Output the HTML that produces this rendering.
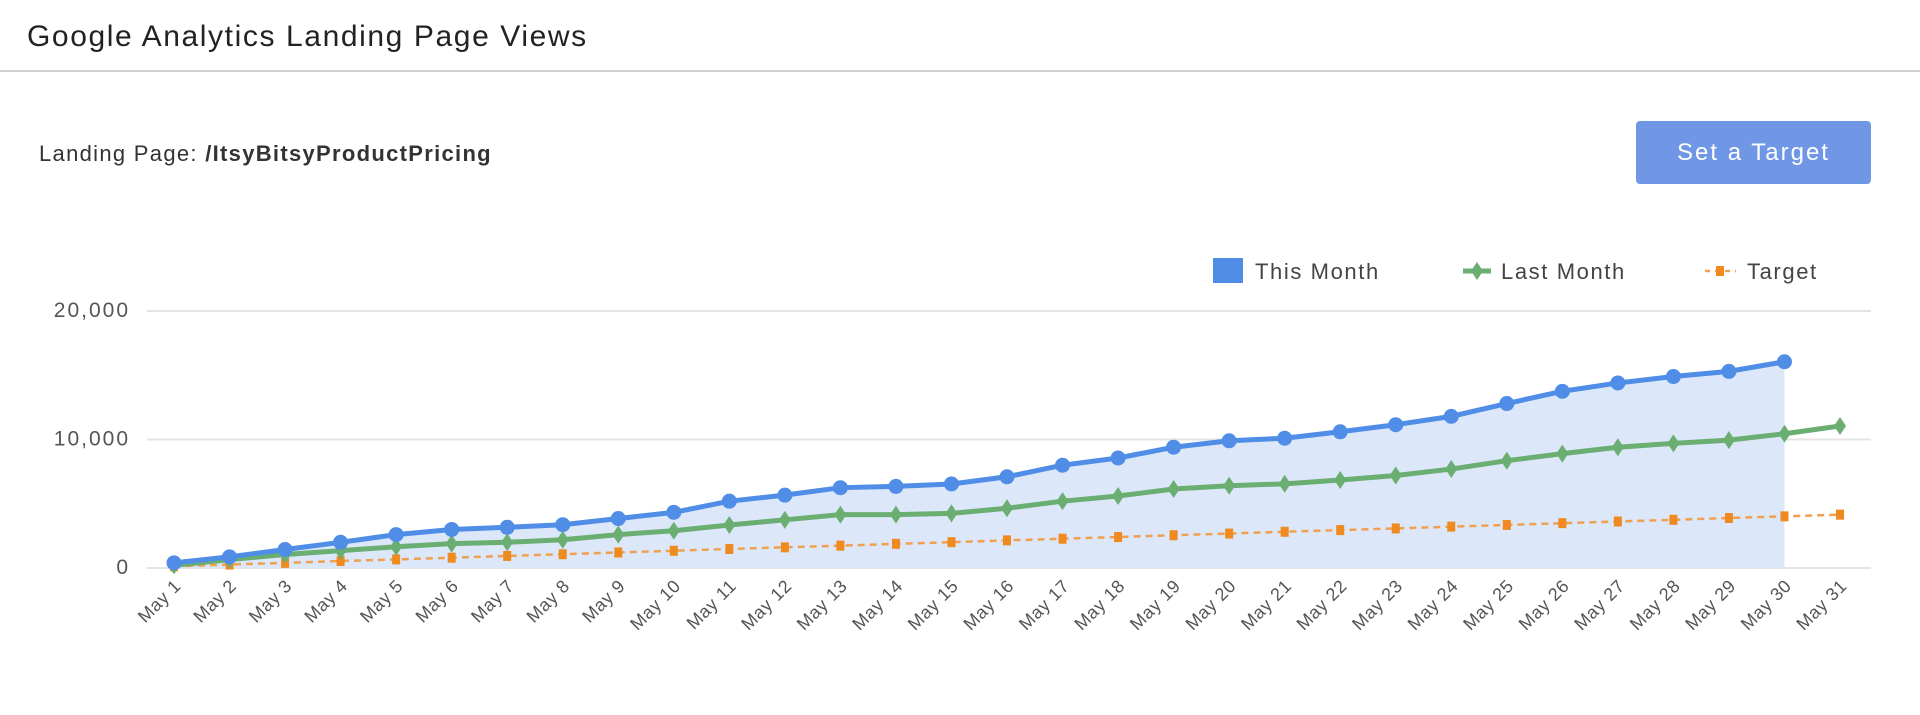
<!DOCTYPE html>
<html><head><meta charset="utf-8"><style>
html,body{margin:0;padding:0;background:#fff;width:1920px;height:715px;overflow:hidden;font-family:"Liberation Sans",sans-serif;}
#title{position:absolute;left:27px;top:20px;font-size:30px;color:#222;letter-spacing:1.6px;}
#hline{position:absolute;left:0;top:70px;width:1920px;height:2px;background:#d0d0d0;}
#lp{position:absolute;left:39px;top:141px;font-size:22px;color:#333;letter-spacing:1.3px;}
#lp b{color:#333;}
#btn{position:absolute;left:1636px;top:121px;width:235px;height:63px;background:#7097e6;border-radius:4px;color:#fff;font-size:24px;line-height:63px;text-align:center;letter-spacing:2px;}
svg{position:absolute;left:0;top:0;}
</style></head><body>
<div id="title">Google Analytics Landing Page Views</div>
<div id="hline"></div>
<div id="lp">Landing Page: <b>/ItsyBitsyProductPricing</b></div>
<div id="btn">Set a Target</div>
<svg id="chart" width="1920" height="715"></svg>
<script>
const categories=["May 1","May 2","May 3","May 4","May 5","May 6","May 7","May 8","May 9","May 10","May 11","May 12","May 13","May 14","May 15","May 16","May 17","May 18","May 19","May 20","May 21","May 22","May 23","May 24","May 25","May 26","May 27","May 28","May 29","May 30","May 31"];
const thisMonth=[400,870,1440,2000,2600,3000,3170,3370,3850,4330,5200,5670,6250,6350,6540,7100,8000,8560,9400,9900,10100,10600,11150,11800,12800,13750,14400,14900,15300,16050];
const lastMonth=[200,650,1050,1350,1650,1900,2000,2200,2600,2900,3350,3750,4150,4150,4250,4650,5200,5600,6150,6400,6550,6850,7200,7700,8350,8900,9400,9700,9950,10450,11050];
const target=[130,270,400,540,670,800,940,1070,1210,1340,1480,1610,1740,1880,2010,2150,2280,2410,2550,2680,2820,2950,3080,3220,3350,3490,3620,3750,3890,4020,4150];
const yTicks=[0,10000,20000];
const yTickLabels=["0","10,000","20,000"];
const legendLabels=["This Month","Last Month","Target"];

const NS="http://www.w3.org/2000/svg";
const svg=document.getElementById('chart');
const X0=174,X1=1840,Y0=568,YMAX=20000,Y20=311;
const xs=i=>X0+(X1-X0)*i/(categories.length-1);
const ys=v=>Y0-(Y0-Y20)*v/YMAX;
function mk(t,a){const e=document.createElementNS(NS,t);for(const k in a)e.setAttribute(k,a[k]);svg.appendChild(e);return e;}

yTicks.forEach((t,i)=>{
  const g=mk('line',{x1:147,x2:1871,y1:ys(t),y2:ys(t),stroke:'#e4e4e4','stroke-width':2});
  
  
  const tx=mk('text',{x:130,y:ys(t)+6,'text-anchor':'end','font-size':21,'letter-spacing':2,fill:'#555'});
  tx.textContent=yTickLabels[i];
  
  
});

let d='M'+xs(0)+','+Y0;
thisMonth.forEach((v,i)=>d+=' L'+xs(i)+','+ys(v));
d+=' L'+xs(thisMonth.length-1)+','+Y0+' Z';
const area=mk('path',{d:d,fill:'#dce7f9'});



function line(arr,color,w,dash,name){
  const p=mk('polyline',{points:arr.map((v,i)=>xs(i)+','+ys(v)).join(' '),fill:'none',stroke:color,'stroke-width':w,'stroke-dasharray':dash||'none'});
  
  
}
line(target,'#f0a050',2.5,'7,5','target-line');
target.forEach((v,i)=>{const r=mk('rect',{x:xs(i)-4,y:ys(v)-5,width:8,height:10,fill:'#ee8a20'});
  
  });
line(lastMonth,'#6aae72',5,null,'last-month-line');
lastMonth.forEach((v,i)=>{const x=xs(i),y=ys(v);const r=mk('polygon',{points:`${x},${y-9} ${x+6},${y} ${x},${y+9} ${x-6},${y}`,fill:'#6aae72'});
  
  });
line(thisMonth,'#4f8de6',5,null,'this-month-line');
thisMonth.forEach((v,i)=>{const c=mk('circle',{cx:xs(i),cy:ys(v),r:7.5,fill:'#4f8de6'});
  
  });

categories.forEach((c,i)=>{
  const x=xs(i)+8,y=587;
  const t=mk('text',{x:x,y:y,'text-anchor':'end','font-size':18,'letter-spacing':0.6,fill:'#555',transform:`rotate(-45 ${x} ${y})`});
  t.textContent=c;
  
  
});

const lg1=mk('rect',{x:1213,y:258,width:30,height:25,fill:'#4f8de6'});


const lg2=mk('line',{x1:1463,x2:1491,y1:271,y2:271,stroke:'#6aae72','stroke-width':5});


const lg2b=mk('polygon',{points:'1477,262 1483,271 1477,280 1471,271',fill:'#6aae72'});


const lg3=mk('line',{x1:1705,x2:1736,y1:271,y2:271,stroke:'#f0a050','stroke-width':2.5,'stroke-dasharray':'5,5'});


const lg3b=mk('rect',{x:1716,y:266,width:8,height:10,fill:'#ee8a20'});


[1255,1501,1747].forEach((x,i)=>{
  const t=mk('text',{x:x,y:279,'font-size':22,'letter-spacing':1.6,fill:'#444'});
  t.textContent=legendLabels[i];
  
  
});
</script>
</body></html>
